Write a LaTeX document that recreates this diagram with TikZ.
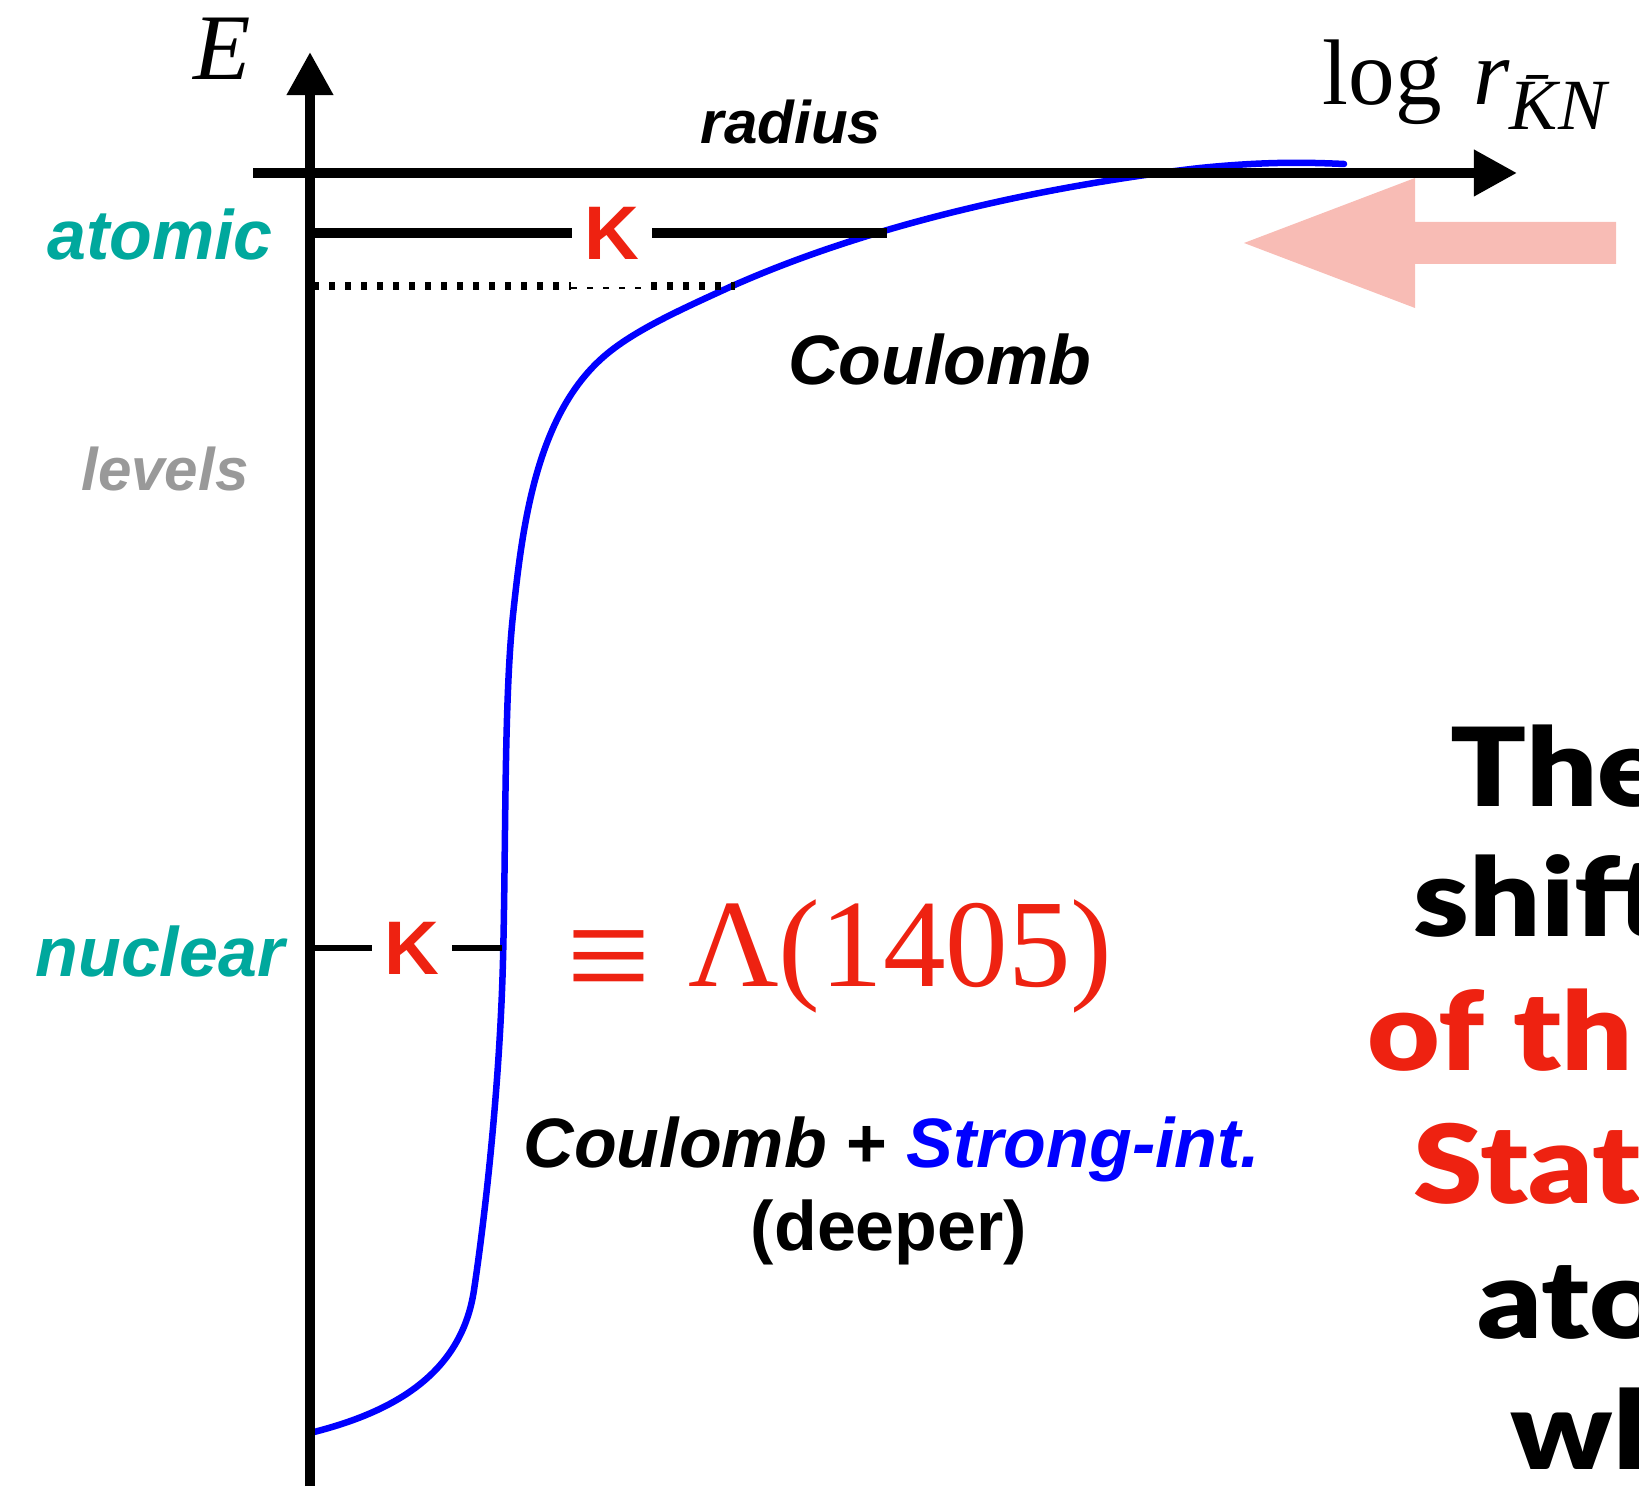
\documentclass[tikz,border=0pt]{standalone}
\usepackage{fontspec}
\setmainfont{Liberation Sans}
\newfontfamily\timesfont{Liberation Serif}
\newfontfamily\slidefont{Lato Black}
\usetikzlibrary{arrows.meta}
\definecolor{kteal}{RGB}{0,168,157}
\definecolor{kred}{RGB}{238,34,17}
\definecolor{kpink}{RGB}{248,188,181}
\definecolor{kgrey}{RGB}{153,153,153}
\definecolor{kblue}{RGB}{0,0,255}
\newcommand{\widetext}[1]{\scalebox{1.15}[1]{#1}}

\tikzset{
  axisline/.style={line width=0.1cm, -{Triangle[length=0.43cm,width=0.44cm]}},
  lvlname/.style={font=\fontsize{19.9}{24}\selectfont\bfseries\itshape, text=kteal, anchor=base},
  kstate/.style={font=\fontsize{21.6}{26}\selectfont\bfseries, text=kred, inner xsep=0.12cm, inner ysep=0pt},
  potlabel/.style={font=\fontsize{19.9}{24}\selectfont\bfseries, anchor=base},
  bigline/.style={font=\slidefont\fontsize{31}{36}\selectfont, anchor=base west, inner sep=0pt},
}

\begin{document}
\begin{tikzpicture}[x=0.01cm, y=-0.01cm]
  \useasboundingbox (0,0) rectangle (1639,1498);

  % pink arrow (pointing left)
  \fill[kpink] (1244,243) -- (1415,178) -- (1415,222) -- (1616,222) -- (1616,264)
    -- (1415,264) -- (1415,308) -- cycle;

  % potential curve
  \draw[kblue, line width=0.065cm, line cap=round] (314,1432)
    .. controls (400,1410) and (462,1370) .. (474,1290)
    .. controls (486,1210) and (500,1080) .. (503,960)
    .. controls (506,840) and (504,700) .. (513,615)
    .. controls (522,530) and (535,420) .. (600,360)
    .. controls (630,332) and (680,310) .. (730,287)
    .. controls (880,220) and (1060,184) .. (1200,168)
    .. controls (1260,162) and (1300,162) .. (1344,164);

  % axes
  \coordinate (Ebot) at (310,1486);
  \coordinate (Etop) at (310,52);
  \coordinate (rleft) at (253,173);
  \coordinate (rright) at (1517,173);
  \draw[axisline] (Ebot) -- (Etop);
  \draw[axisline] (rleft) -- (rright);

  \node[font=\timesfont\itshape\fontsize{26.7}{30}\selectfont, anchor=base] (Elabel) at (222,80) {E};
  \node[font=\timesfont\fontsize{26.5}{30}\selectfont, anchor=base west, inner sep=0pt] (rlabel) at (1322,105)
    {log\hspace{9pt}\textit{r}\raisebox{-7.1pt}{\fontsize{20.5}{22}\selectfont\itshape \=KN}};
  \node[font=\fontsize{17.1}{20}\selectfont\bfseries\itshape, anchor=base] (radius) at (791,144) {radius};

  %--- atomic level ---
  \coordinate (atomL) at (310,233);
  \coordinate (atomR) at (887,233);
  \node[kstate] (Katom) at (612,233) {K};
  \draw[line width=0.1cm] (atomL) -- (Katom) -- (atomR);

  \coordinate (dotL) at (313,286);
  \coordinate (dotA) at (571,286);
  \coordinate (thinA) at (571,288);
  \coordinate (thinB) at (651,288);
  \coordinate (dotB) at (651,286);
  \coordinate (dotR) at (735,286);
  \draw[line width=0.08cm, dash pattern=on 0.06cm off 0.1cm] (dotL) -- (dotA);
  \draw[line width=0.025cm, dash pattern=on 0.06cm off 0.1cm] (thinA) -- (thinB);
  \draw[line width=0.08cm, dash pattern=on 0.06cm off 0.1cm] (dotB) -- (dotR);

  %--- nuclear level ---
  \coordinate (nucL) at (310,948);
  \coordinate (nucR) at (502,948);
  \node[kstate] (Knuc) at (412,948) {K};
  \draw[line width=0.06cm] (nucL) -- (Knuc) -- (nucR);

  %--- labels ---
  \node[lvlname] (atomic) at (160,260) {atomic};
  \node[lvlname, text=kgrey, font=\fontsize{17.1}{20}\selectfont\bfseries\itshape] (levels) at (165,491) {levels};
  \node[lvlname] (nuclear) at (160,977) {nuclear};

  \node[potlabel, font=\fontsize{19.9}{24}\selectfont\bfseries\itshape] (coul) at (940,385) {Coulomb};
  \node[font=\timesfont\fontsize{35.6}{40}\selectfont, text=kred, anchor=base west, inner sep=0pt] (lambda) at (566,987)
    {\raisebox{-5.6pt}{\scalebox{1.2}[1.21]{≡}}\hspace{1.5pt} Λ(1405)};
  \node[potlabel] (coulstrong) at (892,1168)
    {\textit{Coulomb} + \textcolor{kblue}{\textit{Strong-int.}}};
  \node[potlabel] (deeper) at (889,1250) {(deeper)};

  %--- slide text, cut at the right edge ---
  \begin{scope}
    \clip (0,0) rectangle (1639,1498);
    \node[bigline] (line1) at (1450,807) {\widetext{The}};
    \node[bigline] (line2) at (1413,937) {\widetext{shift}};
    \node[bigline, text=kred] (line3) at (1367,1071) {\widetext{of th}};
    \node[bigline, text=kred] (line4) at (1413,1204) {\widetext{Stat}};
    \node[bigline] (line5) at (1477,1338) {\widetext{ato}};
    \node[bigline] (line6) at (1510,1469) {\widetext{wh}};
  \end{scope}
\end{tikzpicture}
\end{document}
